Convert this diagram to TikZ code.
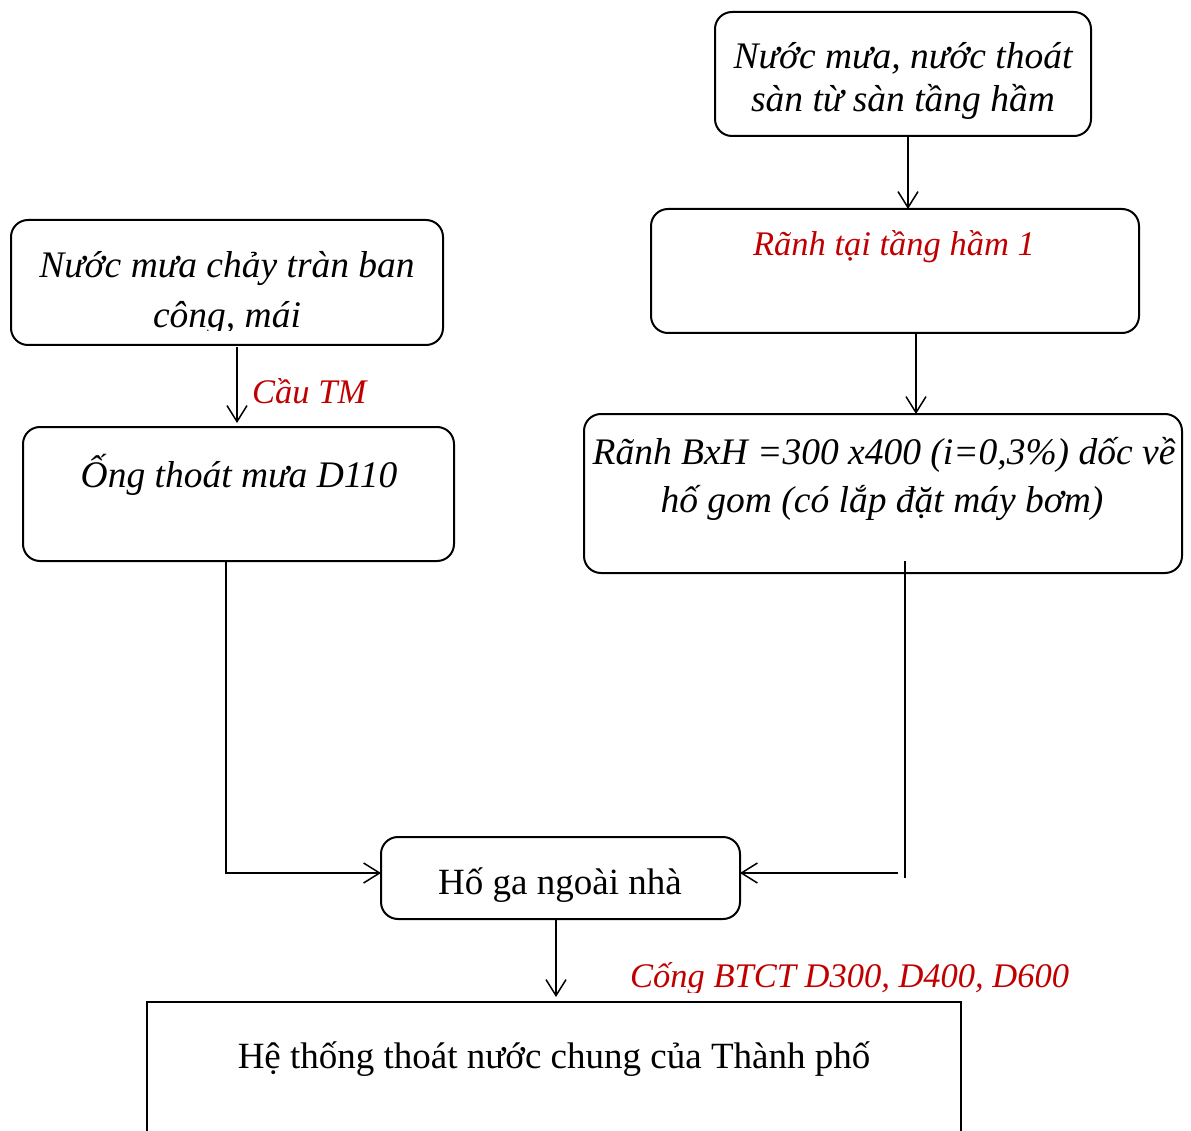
\documentclass[tikz,border=0pt]{standalone}
\usepackage{fontspec}
\setmainfont{Liberation Serif}
\usetikzlibrary{arrows.meta,calc}
\definecolor{wred}{HTML}{C00000}
\begin{document}
\begin{tikzpicture}[x=1pt,y=-1pt,
  rbox/.style={draw, line width=2pt, rounded corners=17pt, inner sep=0pt, outer sep=0pt},
  sbox/.style={draw, line width=2.8pt, inner sep=0pt, outer sep=0pt},
  txt/.style={inner sep=0pt, anchor=base, font=\fontsize{37}{44}\selectfont},
  itxt/.style={txt, font=\fontsize{37.5}{44}\selectfont\itshape},
  rtxt/.style={txt, font=\fontsize{34.5}{41}\selectfont\itshape, text=wred},
  arr/.style={line width=1.5pt, -{Straight Barb[length=16pt,width=20pt,line width=1.5pt]}},
  ln/.style={line width=1.5pt}]
\useasboundingbox (0,0) rectangle (1191,1131);

% boxes
\node[rbox, minimum width=376pt, minimum height=124pt] (A) at (903,74) {};
\node[rbox, minimum width=488pt, minimum height=124pt] (B) at (895,271) {};
\node[rbox, minimum width=598pt, minimum height=159pt] (C) at (883,493.5) {};
\node[rbox, minimum width=432pt, minimum height=125pt] (D) at (227,282.5) {};
\node[rbox, minimum width=431pt, minimum height=134pt] (E) at (238.5,494) {};
\node[rbox, minimum width=359pt, minimum height=82pt] (F) at (560.5,878) {};
\node[sbox, minimum width=814pt, minimum height=240pt] (G) at (554,1122) {};

% texts
\node[itxt] (ta1) at (903,69) {Nước mưa, nước thoát};
\node[itxt] (ta2) at (903,112) {sàn từ sàn tầng hầm};
\node[rtxt] (tb) at (894,256) {Rãnh tại tầng hầm 1};
\node[itxt] (tc1) at (884,464) {Rãnh BxH =300 x400 (i=0,3\%) dốc về};
\node[itxt] (tc2) at (882,512) {hố gom (có lắp đặt máy bơm)};
\node[itxt] (td1) at (227,278) {Nước mưa chảy tràn ban};
\begin{scope}
  \clip (0,0) rectangle (1191,331);
  \node[itxt] (td2) at (227,328) {công, mái};
\end{scope}
\node[itxt] (te) at (239,487) {Ống thoát mưa D110};
\node[txt] (tf) at (560,894) {Hố ga ngoài nhà};
\node[txt] (tg) at (554,1068) {Hệ thống thoát nước chung của Thành phố};
\node[rtxt, anchor=base west] (lcau) at (252,403) {Cầu TM};
\begin{scope}
  \clip (0,0) rectangle (1191,992);
  \node[rtxt, anchor=base west] (lcong) at (630,987) {Cống BTCT D300, D400, D600};
\end{scope}

% connectors
\draw[arr] ([xshift=5pt]A.south) -- ([xshift=5pt]A.south |- B.north);
\draw[arr] ([xshift=21pt]B.south) -- ([xshift=21pt]B.south |- C.north);
\draw[arr] ([xshift=10pt,yshift=-2pt]D.south) -- ([xshift=10pt,yshift=4pt]D.south |- E.north);
\draw[arr] ([xshift=-12.5pt]E.south) |- ([yshift=5pt]F.west);
\draw[ln] ([xshift=22pt,yshift=12pt]C.south) -- ([xshift=22pt]C.south |- F.east);
\coordinate (r) at (898,873);
\draw[arr] (r) -- (F.east |- r);
\draw[arr, shorten >=5pt] ([xshift=-4.5pt,yshift=-1pt]F.south) -- ([xshift=-4.5pt]F.south |- G.north);
\end{tikzpicture}
\end{document}
